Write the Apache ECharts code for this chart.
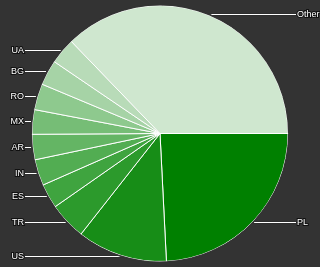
<!DOCTYPE html>
<html>
<head>
<meta charset="utf-8">
<script src="https://cdn.jsdelivr.net/npm/echarts@6/dist/echarts.min.js"></script>
<style>
html,body{margin:0;padding:0;background:#333333;}
#c{width:320px;height:267px;}
</style>
</head>
<body>
<div id="c"></div>
<script>
var categories = ['PL','US','TR','ES','IN','AR','MX','RO','BG','UA','Other'];
var shares = [24.2, 11.4, 4.7, 3.1, 3.3, 3.2, 3.1, 3.3, 3.2, 3.3, 37.2];
var colors = ['#008000','#178d17','#2c9a2c','#3fa43f','#52ad52','#64b564','#76bd76','#8ec98e','#a6d3a6','#b8dbb8','#cfe7cf'];

var chart = echarts.init(document.getElementById('c'), null, {renderer:'canvas'});
var pieData = categories.map(function(n,i){ return {name:n, value:shares[i], itemStyle:{color:colors[i]}}; });
var ringData = categories.map(function(n,i){ return {name:n, value:shares[i]}; });

var W = 320;
chart.setOption({
  backgroundColor:'#333333',
  animation:false,
  series:[
    {
      type:'pie', z:2, center:['50%','50%'], radius:128, startAngle:0, clockwise:true,
      avoidLabelOverlap:false, silent:true,
      label:{show:false}, labelLine:{show:false},
      itemStyle:{borderColor:'#ffffff', borderWidth:1},
      emphasis:{disabled:true},
      data:pieData
    },
    {
      type:'pie', z:3, center:['50%','50%'], radius:[128,129.5], startAngle:0, clockwise:true,
      avoidLabelOverlap:false, silent:true,
      itemStyle:{color:'#333333', borderWidth:0},
      emphasis:{disabled:true},
      label:{show:true, position:'outside', color:'#ffffff', fontSize:9, fontFamily:'Liberation Sans, Arial, sans-serif',
             textBorderColor:'#111111', textBorderWidth:2, formatter:'{b}'},
      labelLine:{show:true, length:0, length2:0, lineStyle:{color:'#ffffff', width:1, shadowColor:'#000000', shadowBlur:1}},
      labelLayout:function(p){
        var s = p.labelLinePoints[0];
        var left = s[0] < W/2;
        var endX = left ? 25 : 296;
        var y = Math.floor(s[1]) + 0.5;
        return {
          x: left ? endX - 1 : endX + 1,
          y: y,
          align: left ? 'right' : 'left',
          verticalAlign:'middle',
          labelLinePoints:[[s[0],y],[s[0],y],[endX,y]]
        };
      },
      data:ringData
    }
  ]
});
</script>
</body>
</html>
